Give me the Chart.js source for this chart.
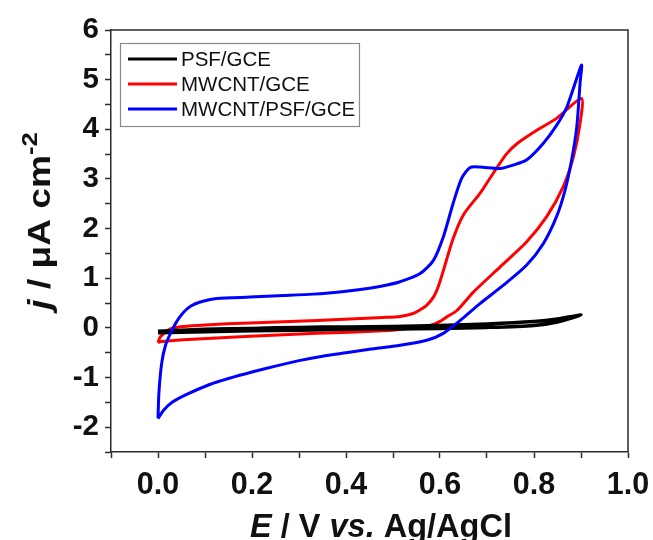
<!DOCTYPE html>
<html>
<head>
<meta charset="utf-8">
<script src="https://cdn.jsdelivr.net/npm/chart.js@4/dist/chart.umd.min.js"></script>
<style>
  html, body { margin: 0; padding: 0; background: #fff; }
  #wrap { width: 653px; height: 540px; position: relative; }
</style>
</head>
<body>
<div id="wrap"><canvas id="c"></canvas></div>
<script>
// ---- data ----
const seriesLabels = ['PSF/GCE', 'MWCNT/GCE', 'MWCNT/PSF/GCE'];

const psfE = [0.0, 0.1, 0.2, 0.3, 0.4, 0.5, 0.6, 0.7, 0.8, 0.85, 0.9, 0.85, 0.8, 0.7, 0.6, 0.5, 0.4, 0.3, 0.2, 0.1, 0.0];
const psfJ = [-0.07, -0.03, -0.01, 0.01, 0.02, 0.03, 0.05, 0.08, 0.13, 0.18, 0.26, 0.12, 0.05, 0.01, -0.01, -0.02, -0.03, -0.05, -0.06, -0.08, -0.10];

const mwE = [0.0, 0.005, 0.026, 0.054, 0.1, 0.196, 0.338, 0.479, 0.515, 0.543, 0.557, 0.572, 0.586, 0.597, 0.607, 0.628, 0.650, 0.685, 0.713, 0.742, 0.765, 0.806, 0.848, 0.901,
             0.898, 0.884, 0.862, 0.827, 0.784, 0.728, 0.671, 0.636, 0.614, 0.600, 0.586, 0.557, 0.515, 0.479, 0.338, 0.196, 0.054, 0.004, 0.0];
const mwJ = [-0.30, -0.18, -0.02, 0.03, 0.06, 0.10, 0.15, 0.21, 0.23, 0.29, 0.36, 0.46, 0.62, 0.85, 1.15, 1.80, 2.28, 2.71, 3.11, 3.51, 3.72, 3.98, 4.22, 4.62,
             4.12, 3.45, 2.84, 2.24, 1.73, 1.23, 0.72, 0.35, 0.22, 0.13, 0.07, 0.01, -0.03, -0.06, -0.11, -0.17, -0.24, -0.28, -0.30];

const mpE = [0.0, 0.002, 0.008, 0.016, 0.026, 0.035, 0.045, 0.055, 0.07, 0.09, 0.125, 0.196, 0.267, 0.33, 0.40, 0.45, 0.49, 0.515, 0.557, 0.586, 0.607, 0.628, 0.646, 0.664, 0.685, 0.728, 0.756, 0.784, 0.820, 0.848, 0.870, 0.901,
             0.898, 0.891, 0.880, 0.866, 0.848, 0.820, 0.784, 0.735, 0.685, 0.643, 0.607, 0.572, 0.515, 0.45, 0.40, 0.35, 0.30, 0.25, 0.20, 0.15, 0.11, 0.061, 0.03, 0.012, 0.0];
const mpJ = [-1.82, -1.30, -0.70, -0.35, -0.12, 0.05, 0.20, 0.32, 0.44, 0.52, 0.59, 0.62, 0.65, 0.68, 0.74, 0.80, 0.87, 0.93, 1.09, 1.36, 1.83, 2.51, 3.01, 3.23, 3.24, 3.21, 3.28, 3.38, 3.72, 4.08, 4.45, 5.29,
             4.93, 4.05, 3.38, 2.77, 2.24, 1.70, 1.26, 0.86, 0.49, 0.15, -0.11, -0.25, -0.35, -0.43, -0.50, -0.57, -0.66, -0.77, -0.89, -1.02, -1.14, -1.34, -1.50, -1.66, -1.83];

const xMin = -0.1, xMax = 1.0, xStep = 0.1;
const yMin = -2.5, yMax = 6, yStep = 0.5;

const pts = (xs, ys) => xs.map((x, i) => ({ x: x, y: ys[i] }));

const FONT = "'Liberation Sans', Arial, Helvetica, sans-serif";
const AXIS = '#2b2b2b';

const framePlugin = {
  id: 'frame',
  afterDraw(chart) {
    const { ctx, chartArea: a } = chart;
    ctx.save();
    // top & right frame lines
    ctx.strokeStyle = AXIS;
    ctx.lineWidth = 1.5;
    ctx.beginPath();
    ctx.moveTo(a.left, a.top);
    ctx.lineTo(a.right, a.top);
    ctx.lineTo(a.right, a.bottom);
    ctx.stroke();

    // legend box
    const lx = 120, ly = 43, lw = 239, lh = 83;
    ctx.fillStyle = '#fff';
    ctx.fillRect(lx, ly, lw, lh);
    ctx.strokeStyle = '#8a8a8a';
    ctx.lineWidth = 1.2;
    ctx.strokeRect(lx + 0.5, ly + 0.5, lw, lh);
    ctx.font = '20.5px ' + FONT;
    ctx.textBaseline = 'middle';
    ctx.textAlign = 'left';
    chart.data.datasets.forEach((ds, i) => {
      const yy = 59 + i * 25;
      ctx.strokeStyle = ds.borderColor;
      ctx.lineWidth = 3;
      ctx.beginPath();
      ctx.moveTo(128, yy);
      ctx.lineTo(177, yy);
      ctx.stroke();
      ctx.fillStyle = '#111';
      ctx.fillText(ds.label, 181, yy + 1);
    });

    // x axis title: "E / V vs. Ag/AgCl"
    const xParts = [
      { t: 'E', it: true }, { t: ' / V ', it: false }, { t: 'vs.', it: true }, { t: ' Ag/AgCl', it: false }
    ];
    const size = 32.5;
    const fontOf = (it) => (it ? 'italic ' : '') + 'bold ' + size + 'px ' + FONT;
    let total = 0;
    xParts.forEach(p => { ctx.font = fontOf(p.it); total += ctx.measureText(p.t).width; });
    let x0 = 381 - total / 2;
    ctx.fillStyle = '#111';
    ctx.textBaseline = 'alphabetic';
    xParts.forEach(p => { ctx.font = fontOf(p.it); ctx.fillText(p.t, x0, 537); x0 += ctx.measureText(p.t).width; });

    // y axis title: "j / μA cm-2" rotated
    const ySize = 32;
    const yParts = [
      { t: 'j', it: true, sup: false }, { t: ' / \u03bcA cm', it: false, sup: false }, { t: '-2', it: false, sup: true }
    ];
    const supSize = 22;
    const fontY = (p) => (p.it ? 'italic ' : '') + 'bold ' + (p.sup ? supSize : ySize) + 'px ' + FONT;
    total = 0;
    yParts.forEach(p => { ctx.font = fontY(p); total += ctx.measureText(p.t).width; });
    ctx.translate(50, 221);
    ctx.rotate(-Math.PI / 2);
    ctx.scale(1.16, 1);
    let s = -total / 2;
    yParts.forEach(p => {
      ctx.font = fontY(p);
      ctx.fillText(p.t, s, p.sup ? -13 : 0);
      s += ctx.measureText(p.t).width;
    });
    ctx.restore();
  }
};

new Chart(document.getElementById('c'), {
  type: 'scatter',
  data: {
    datasets: [
      { label: seriesLabels[0], data: pts(psfE, psfJ), borderColor: '#000000', backgroundColor: '#000000', borderWidth: 3.5, showLine: true, pointRadius: 0, tension: 0.25, order: 1 },
      { label: seriesLabels[1], data: pts(mwE, mwJ), borderColor: '#ff0000', backgroundColor: '#ff0000', borderWidth: 3, showLine: true, pointRadius: 0, tension: 0.25, order: 2 },
      { label: seriesLabels[2], data: pts(mpE, mpJ), borderColor: '#0000ff', backgroundColor: '#0000ff', borderWidth: 3, showLine: true, pointRadius: 0, tension: 0.25, order: 0 }
    ]
  },
  options: {
    responsive: true,
    maintainAspectRatio: false,
    animation: false,
    events: [],
    layout: { padding: { top: 30, right: 25, left: 0, bottom: 0 } },
    plugins: { legend: { display: false }, tooltip: { enabled: false } },
    scales: {
      x: {
        type: 'linear', min: xMin, max: xMax,
        afterFit: (s) => { s.height = 88; s.paddingLeft = 0; s.paddingRight = 0; },
        ticks: {
          stepSize: xStep, autoSkip: false, maxRotation: 0, padding: 9,
          color: '#111', font: { family: FONT, size: 30.5, weight: 'bold' },
          callback: (v) => { const k = Math.round(v * 10); return (k % 2 === 0) ? (k / 10).toFixed(1) : ''; }
        },
        grid: { drawOnChartArea: false, drawTicks: true, tickLength: 6, tickColor: AXIS, tickWidth: 1.5 },
        border: { display: true, color: AXIS, width: 1.5 }
      },
      y: {
        type: 'linear', min: yMin, max: yMax,
        afterFit: (s) => { s.width = 111; s.paddingTop = 0; s.paddingBottom = 0; },
        ticks: {
          stepSize: yStep, autoSkip: false, padding: 6,
          color: '#111', font: { family: FONT, size: 29.5, weight: 'bold' },
          callback: (v) => Number.isInteger(v) ? String(v) : ''
        },
        grid: { drawOnChartArea: false, drawTicks: true, tickLength: 6, tickColor: AXIS, tickWidth: 1.5 },
        border: { display: true, color: AXIS, width: 1.5 }
      }
    }
  },
  plugins: [framePlugin]
});
</script>
</body>
</html>
